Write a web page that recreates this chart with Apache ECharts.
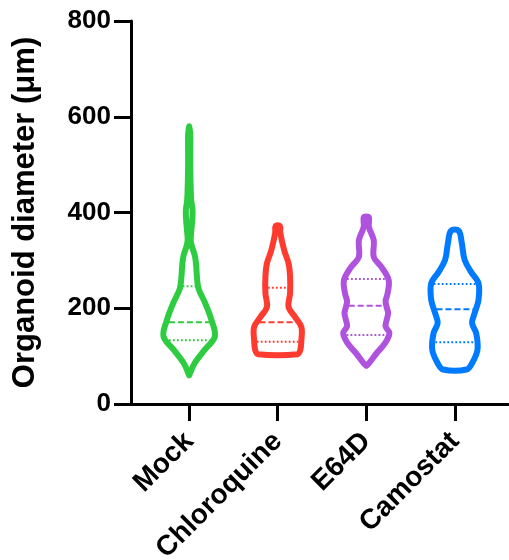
<!DOCTYPE html>
<html>
<head>
<meta charset="utf-8">
<script src="https://cdn.jsdelivr.net/npm/echarts@6/dist/echarts.min.js"></script>
<style>
html,body{margin:0;padding:0;background:#fff;}
#chart{width:509px;height:560px;}
</style>
</head>
<body>
<div id="chart"></div>
<script>
// ---- data ----
const categories = ['Mock', 'Chloroquine', 'E64D', 'Camostat'];
const colors = ['#2ecc40', '#ff3b30', '#af52de', '#007aff'];
const yTicks = [0, 200, 400, 600, 800];

// density profiles: diameter values (µm) and relative density (0..1)
const mockY = [60, 85, 113, 141, 175, 211, 240, 260, 290, 310, 330, 342, 360, 385, 405, 425, 450, 500, 565, 580];
const mockD = [0, 0.21, 0.6, 1.0, 0.87, 0.62, 0.37, 0.31, 0.27, 0.22, 0.1, 0.06, 0.08, 0.12, 0.13, 0.08, 0.06, 0.04, 0.04, 0];

const chloroY = [104, 113, 133, 161, 182, 203, 231, 266, 294, 321, 357, 372];
const chloroD = [0.77, 0.88, 0.92, 0.92, 0.67, 0.42, 0.48, 0.48, 0.42, 0.25, 0.1, 0.08];

const e64dY = [80, 85, 106, 127, 148, 162, 175, 190, 203, 215, 231, 259, 287, 307, 342, 370, 390];
const e64dD = [0, 0.1, 0.4, 0.73, 0.9, 0.75, 0.79, 0.85, 0.79, 0.75, 0.83, 0.87, 0.58, 0.29, 0.29, 0.1, 0.1];

const camoY = [72, 85, 113, 148, 169, 190, 217, 252, 276, 301, 336, 362];
const camoD = [0.46, 0.67, 0.88, 0.83, 0.67, 0.77, 0.92, 0.92, 0.63, 0.38, 0.27, 0.15];

// quartiles [Q1, median, Q3]
const mockQ = [133, 170.5, 246];
const chloroQ = [130, 170.5, 243];
const e64dQ = [144, 205, 261];
const camoQ = [129, 198, 250.5];

const profiles = [
  {y: mockY, d: mockD, q: mockQ},
  {y: chloroY, d: chloroD, q: chloroQ},
  {y: e64dY, d: e64dD, q: e64dQ},
  {y: camoY, d: camoD, q: camoQ}
];

// ---- drawing ----
const MAX_HALF = 0.29; // half-width in x-axis units at density 1
const FONT = 'Liberation Sans, Arial, sans-serif';

function interp(ys, ds, v) {
  if (v <= ys[0]) return ds[0];
  for (let i = 1; i < ys.length; i++) {
    if (v <= ys[i]) {
      const t = (v - ys[i - 1]) / (ys[i] - ys[i - 1]);
      return ds[i - 1] + t * (ds[i] - ds[i - 1]);
    }
  }
  return ds[ds.length - 1];
}

function makeSeries(idx) {
  const p = profiles[idx];
  const color = colors[idx];
  return {
    type: 'custom',
    name: categories[idx],
    data: [[idx + 1]],
    clip: false,
    renderItem: function (params, api) {
      const cx = idx + 1;
      const pts = [];
      for (let i = 0; i < p.y.length; i++) {
        pts.push(api.coord([cx + p.d[i] * MAX_HALF, p.y[i]]));
      }
      for (let i = p.y.length - 1; i >= 0; i--) {
        pts.push(api.coord([cx - p.d[i] * MAX_HALF, p.y[i]]));
      }
      const children = [{
        type: 'polygon',
        shape: {points: pts, smooth: 0.35},
        style: {fill: 'none', stroke: color, lineWidth: 6, lineJoin: 'round'}
      }];
      p.q.forEach(function (qv, k) {
        const hw = interp(p.y, p.d, qv) * MAX_HALF;
        const a = api.coord([cx - hw, qv]);
        const b = api.coord([cx + hw, qv]);
        children.push({
          type: 'line',
          shape: {x1: a[0] + 2.5, y1: a[1], x2: b[0] - 2.5, y2: b[1]},
          style: {
            stroke: color,
            lineWidth: 2,
            lineDash: k === 1 ? [6, 3] : [1.8, 2.2]
          }
        });
      });
      return {type: 'group', children: children};
    }
  };
}

const chart = echarts.init(document.getElementById('chart'), null, {renderer: 'canvas'});
chart.setOption({
  animation: false,
  backgroundColor: '#fff',
  grid: {left: 131, right: 1, top: 21, bottom: 156, containLabel: false, outerBoundsMode: 'none'},
  xAxis: {
    type: 'value',
    min: 0.343,
    max: 4.6,
    splitLine: {show: false},
    axisLine: {show: true, lineStyle: {color: '#000', width: 3}},
    axisTick: {show: true, length: 17, lineStyle: {color: '#000', width: 3}, customValues: [1, 2, 3, 4]},
    axisLabel: {
      customValues: [1, 2, 3, 4],
      formatter: function (v) { return categories[Math.round(v) - 1]; },
      rotate: 45,
      margin: 33,
      color: '#000',
      fontFamily: FONT,
      fontWeight: 'bold',
      fontSize: 28
    }
  },
  yAxis: {
    type: 'value',
    min: yTicks[0],
    max: yTicks[yTicks.length - 1],
    interval: 200,
    name: 'Organoid diameter (μm)',
    nameLocation: 'middle',
    nameRotate: 90,
    nameGap: 90,
    nameTextStyle: {color: '#000', fontFamily: FONT, fontWeight: 'bold', fontSize: 31},
    splitLine: {show: false},
    axisLine: {show: true, lineStyle: {color: '#000', width: 3}},
    axisTick: {show: true, length: 17, lineStyle: {color: '#000', width: 3}},
    axisLabel: {margin: 20, color: '#000', fontFamily: FONT, fontWeight: 'bold', fontSize: 26}
  },
  series: [makeSeries(0), makeSeries(1), makeSeries(2), makeSeries(3)]
});
</script>
</body>
</html>
